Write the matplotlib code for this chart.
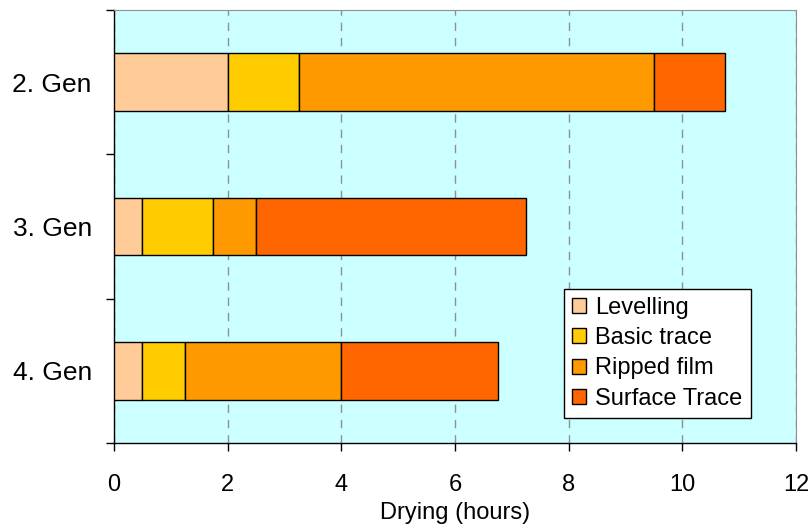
import numpy as np
import matplotlib.pyplot as plt

plt.rcParams['font.family'] = ['Liberation Sans', 'DejaVu Sans']

# drying stages per generation, hours spent in each stage
gens = ["2. Gen", "3. Gen", "4. Gen"]
stages = ["Levelling", "Basic trace", "Ripped film", "Surface Trace"]
levelling = [2.0, 0.5, 0.5]
basic_trace = [1.25, 1.25, 0.75]
ripped_film = [6.25, 0.75, 2.75]
surface_trace = [1.25, 4.75, 2.75]
colors = ["#FFCC99", "#FFCC00", "#FF9900", "#FF6600"]

fig = plt.figure(figsize=(8.11, 5.27), dpi=100)
ax = fig.add_axes([0.1406, 0.1594, 0.8409, 0.8216])
ax.set_facecolor("#CCFFFF")

y = np.arange(len(gens))
left = np.zeros(len(gens))
for name, vals, c in zip(stages, [levelling, basic_trace, ripped_film, surface_trace], colors):
    ax.barh(y, vals, left=left, height=0.4, color=c, edgecolor="black",
            linewidth=1, label=name, zorder=3)
    left += np.array(vals)

ax.set_xlim(0, 12)
ax.set_ylim(2.5, -0.5)
ax.set_xticks(np.arange(0, 13, 2))
ax.set_yticks(y)
ax.set_yticklabels(gens)
ax.set_yticks([-0.5, 0.5, 1.5, 2.5], minor=True)
ax.tick_params(axis="y", which="major", length=0, pad=16, labelsize=19)
ax.tick_params(axis="y", which="minor", length=6, width=1, color="black")
ax.tick_params(axis="x", length=6, width=1, pad=16, labelsize=17)
ax.set_xlabel("Drying (hours)", fontsize=17, labelpad=4.5)

ax.grid(axis="x", color="#909090", linestyle=(0, (6, 5)), linewidth=1, zorder=1)
for side in ["top", "right"]:
    ax.spines[side].set_color("#909090")
for side in ["left", "bottom"]:
    ax.spines[side].set_color("black")
    ax.spines[side].set_linewidth(1)

leg = ax.legend(loc="lower right", bbox_to_anchor=(0.934, 0.058), fontsize=17,
                fancybox=False, framealpha=1, edgecolor="black",
                handlelength=0.6, handleheight=0.6, handletextpad=0.4,
                labelspacing=0.35, borderpad=0.35, borderaxespad=0)
leg.get_frame().set_linewidth(1)
for h in leg.legend_handles:
    h.set_linewidth(1)

fig.savefig("out.png", dpi=100)
